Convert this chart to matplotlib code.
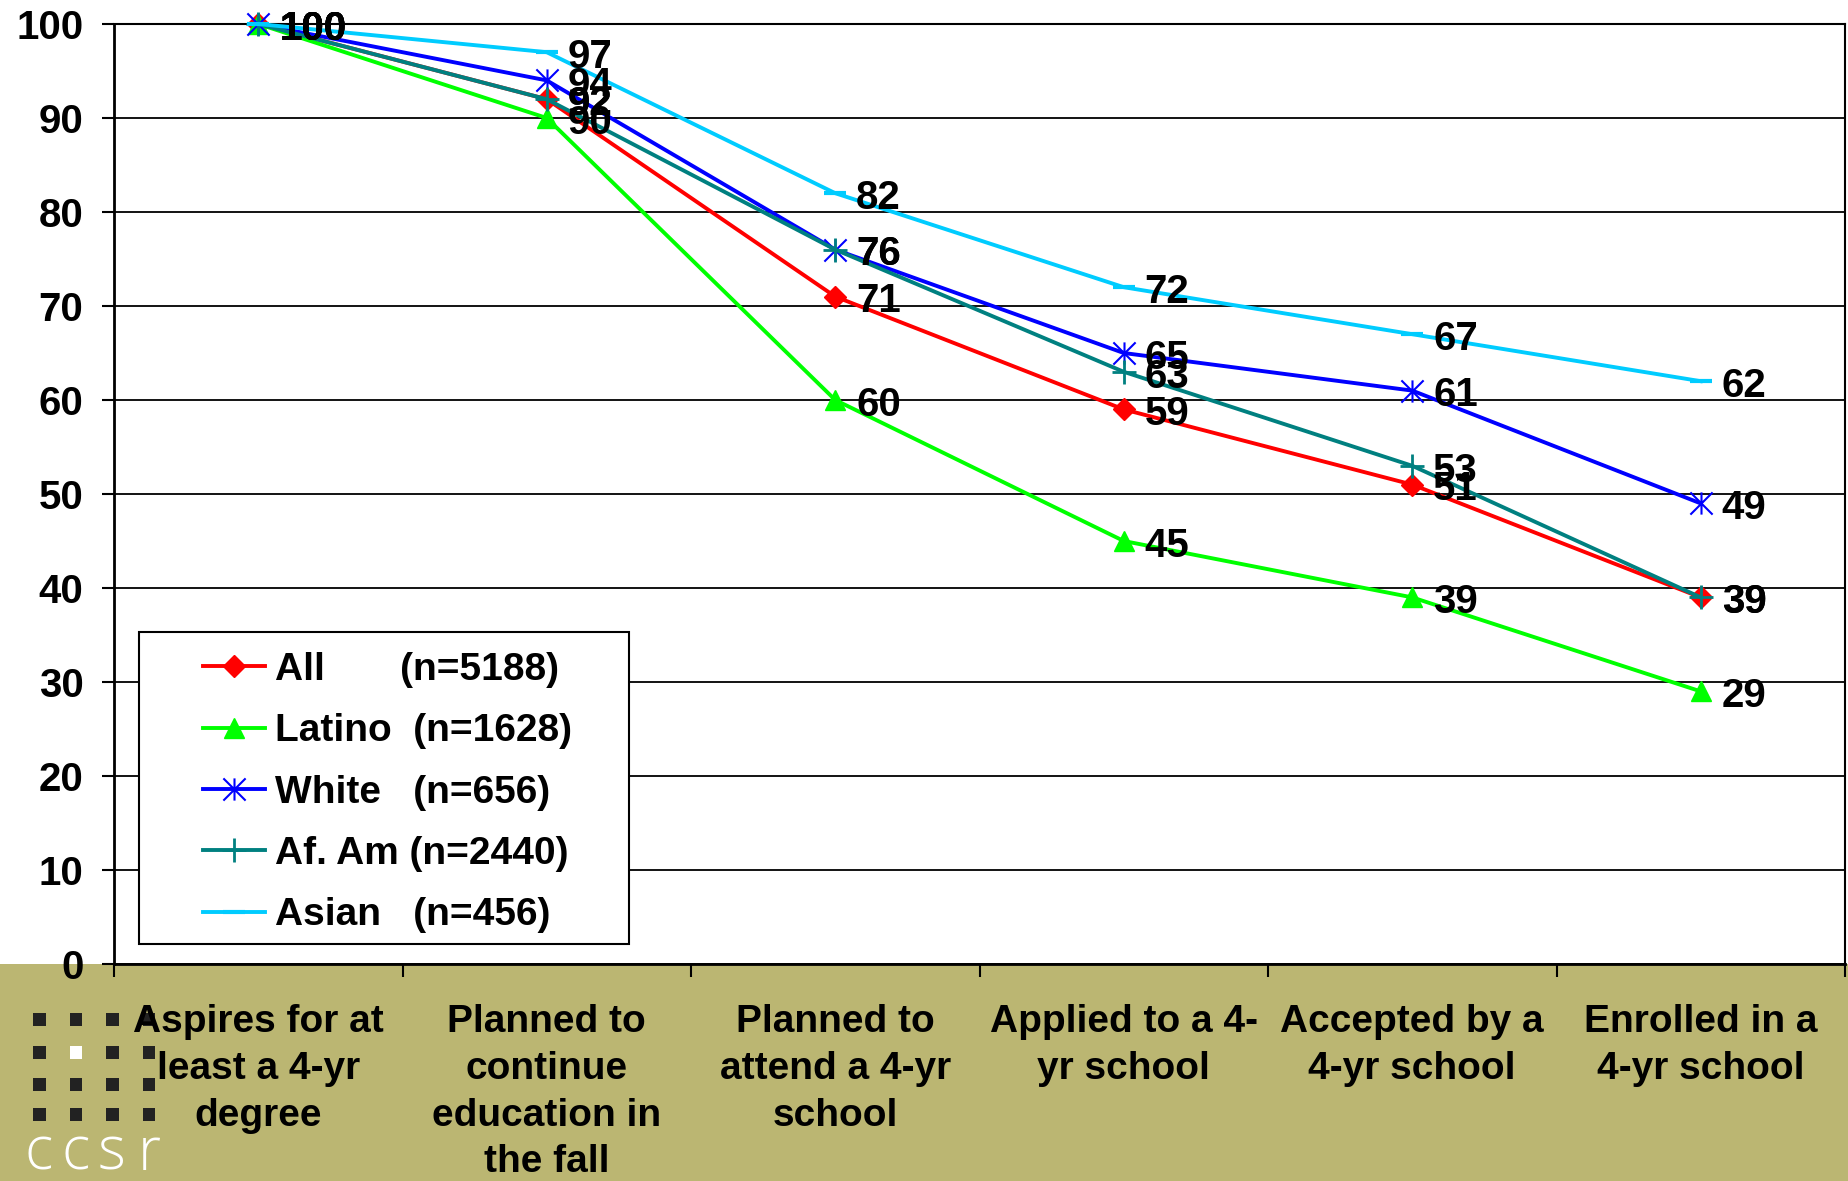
import numpy as np
import matplotlib.pyplot as plt
from matplotlib.path import Path
from matplotlib.patches import Rectangle

plt.rcParams['font.family'] = ['Liberation Sans', 'DejaVu Sans']
plt.rcParams['font.weight'] = 'bold'

# --- data -------------------------------------------------------------------
categories = [
    "Aspires for at\nleast a 4-yr\ndegree",
    "Planned to\ncontinue\neducation in\nthe fall",
    "Planned to\nattend a 4-yr\nschool",
    "Applied to a 4-\nyr school",
    "Accepted by a\n4-yr school",
    "Enrolled in a\n4-yr school",
]
all_pct = [100, 92, 71, 59, 51, 39]
latino_pct = [100, 90, 60, 45, 39, 29]
white_pct = [100, 94, 76, 65, 61, 49]
afam_pct = [100, 92, 76, 63, 53, 39]
asian_pct = [100, 97, 82, 72, 67, 62]

series_labels = [
    "All       (n=5188)",
    "Latino  (n=1628)",
    "White   (n=656)",
    "Af. Am (n=2440)",
    "Asian   (n=456)",
]
yticks = list(range(0, 101, 10))

# excel-style star: vertical bar plus an X
star = Path([(0, -1), (0, 1), (-1, -1), (1, 1), (-1, 1), (1, -1)],
            [Path.MOVETO, Path.LINETO] * 3)

styles = [
    dict(color="#FF0000", marker="D", ms=11),
    dict(color="#00FF00", marker="^", ms=15),
    dict(color="#0000FF", marker=star, ms=16, mew=1.5, mfc="none"),
    dict(color="#008080", marker="+", ms=17, mew=2),
    dict(color="#00CCFF", marker="_", ms=16, mew=3),
]

W, H = 1848, 1181
fig = plt.figure(figsize=(W / 100, H / 100), dpi=100)
fig.patch.set_facecolor("white")

# olive footer band + ccsr logo
fig.patches.append(Rectangle((0, 0), 1, 217 / H, transform=fig.transFigure,
                             facecolor="#BBB672", edgecolor="none", zorder=-2))
col_x = [33, 69.5, 106, 142.5]
row_y = [1013, 1046, 1078, 1108]
for r, yy in enumerate(row_y):
    for c, xx in enumerate(col_x):
        fc = "white" if (r, c) == (1, 1) else "#222222"
        fig.patches.append(Rectangle((xx / W, 1 - (yy + 12.5) / H), 12.5 / W, 12.5 / H,
                                     transform=fig.transFigure, facecolor=fc,
                                     edgecolor="none", zorder=-1))
for letter, xx in zip("ccsr", [39, 76, 112, 149]):
    fig.text(xx / W, 1 - 1170 / H, letter, color="white", fontsize=43,
             family="Open Sans", fontweight="light", ha="center", va="baseline")

ax = fig.add_axes([114 / W, (H - 964) / H, (1845 - 114) / W, (964 - 24) / H])
x = np.arange(len(categories)) + 0.5

series = [all_pct, latino_pct, white_pct, afam_pct, asian_pct]
handles = []
for vals, lab, st in zip(series, series_labels, styles):
    ln, = ax.plot(x, vals, lw=2.8, label=lab, clip_on=False, zorder=3, **st)
    handles.append(ln)
    for xi, v in zip(x, vals):
        ax.annotate(str(v), (xi, v), xytext=(15, -3.5), textcoords="offset points",
                    ha="left", va="center", fontsize=29, fontweight="bold",
                    color="black", zorder=4)

ax.set_xlim(0, len(categories))
ax.set_ylim(0, 100)
ax.set_yticks(yticks)
ax.set_yticklabels([str(t) for t in yticks])
ax.yaxis.grid(True, color="black", lw=1.3)
ax.set_axisbelow(True)

ax.set_xticks(np.arange(len(categories) + 1))
ax.set_xticklabels([])
ax.set_xticks(x, minor=True)
ax.set_xticklabels(categories, minor=True, fontsize=28, fontweight="bold",
                   linespacing=1.38)
ax.tick_params(axis="x", which="major", direction="out", length=9.5, width=1.5)
ax.tick_params(axis="x", which="minor", length=0, pad=29)
ax.tick_params(axis="y", direction="out", length=9, width=1.5, pad=13,
               labelsize=29)
for s in ax.spines.values():
    s.set_color("black")
    s.set_linewidth(1.5)
ax.spines["left"].set_linewidth(2)
ax.spines["bottom"].set_linewidth(2)

# legend: white box with the entries inside
ax.add_patch(Rectangle((139 / W, 1 - 944 / H), 490 / W, 312 / H,
                       transform=fig.transFigure, facecolor="white",
                       edgecolor="black", lw=1.5, zorder=5, clip_on=False))
leg = ax.legend(handles=handles, loc="upper left",
                bbox_to_anchor=(203 / W, 1 - 652 / H), bbox_transform=fig.transFigure,
                frameon=False, borderpad=0, borderaxespad=0,
                handlelength=1.6, handletextpad=0.25, labelspacing=0.65,
                numpoints=1, prop=dict(weight="bold", size=28))
leg.set_zorder(6)

fig.savefig("out.png", dpi=100)
